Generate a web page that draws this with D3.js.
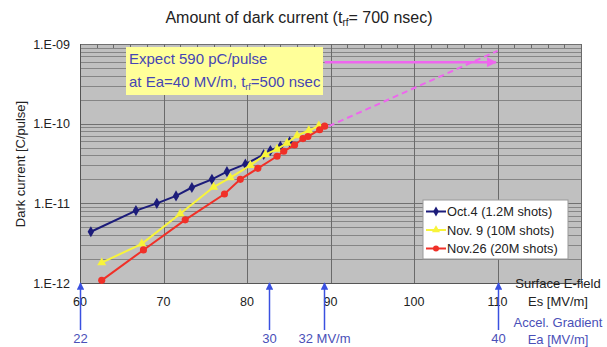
<!DOCTYPE html>
<html>
<head>
<meta charset="utf-8">
<script src="https://cdn.jsdelivr.net/npm/d3@7"></script>
<style>
  body { margin: 0; background: #fff; }
  text { font-family: "Liberation Sans", Arial, sans-serif; }
</style>
</head>
<body>
<svg id="chart" width="607" height="347"></svg>
<script>
// surface field Es [MV/m] and dark current [C/pulse]
var oct4Es  = [61.3, 66.7, 69.2, 71.5, 73.4, 75.8, 77.6, 79.8, 82.0, 82.8, 84.0, 85.1];
var oct4Q   = [4.4e-12, 8.1e-12, 1.0e-11, 1.24e-11, 1.58e-11, 2.0e-11, 2.5e-11, 3.1e-11, 4.1e-11, 4.6e-11, 5.2e-11, 5.9e-11];
var nov9Es  = [62.6, 67.4, 72.0, 76.0, 78.0, 80.4, 82.2, 83.6, 84.8, 86.0, 87.4, 88.6];
var nov9Q   = [1.8e-12, 3.1e-12, 7.4e-12, 1.6e-11, 2.1e-11, 3.0e-11, 4.1e-11, 4.8e-11, 5.7e-11, 7.1e-11, 8.2e-11, 9.4e-11];
var nov26Es = [62.6, 67.6, 72.6, 77.3, 79.2, 81.3, 83.6, 84.4, 85.7, 86.7, 87.3, 88.7, 89.3];
var nov26Q  = [1.08e-12, 2.6e-12, 6.2e-12, 1.31e-11, 2.0e-11, 2.75e-11, 3.9e-11, 4.5e-11, 5.4e-11, 6.5e-11, 6.9e-11, 8.4e-11, 9.3e-11];

// extrapolation and expected value
var extrapEs = [89.8, 110];
var extrapQ  = [9.3e-11, 8.2e-10];
var expectEs = [89.3, 109.8];
var expectQ  = [5.9e-10, 5.9e-10];

// x axis ticks, y axis ticks
var xTicks = [60, 70, 80, 90, 100, 110];
var yTicks = [1e-12, 1e-11, 1e-10, 1e-9];
var yTickLabels = ["1.E-12", "1.E-11", "1.E-10", "1.E-09"];

// accelerating gradient markers
var gradEs = [60, 82.6, 89.2, 110];
var gradLabels = ["22", "30", "32 MV/m", "40"];

var seriesNames = ["Oct.4 (1.2M shots)", "Nov. 9 (10M shots)", "Nov.26 (20M shots)"];

var series = [
	{ name: seriesNames[0], es: oct4Es, q: oct4Q, color: "#1c1c7a", mark: "diamond" },
	{ name: seriesNames[1], es: nov9Es, q: nov9Q, color: "#f8f43a", mark: "triangle" },
	{ name: seriesNames[2], es: nov26Es, q: nov26Q, color: "#f03028", mark: "circle" }
];

var svg = d3.select("#chart");
var pLeft = 80, pRight = 581, pTop = 44, pBottom = 283;

var x = d3.scaleLinear().domain([60, 120]).range([pLeft, pRight]);
var y = d3.scaleLog().domain([1e-12, 1e-9]).range([pBottom, pTop]);

// title
var title = svg.append("text")
	.attr("x", 299).attr("y", 23)
	.attr("text-anchor", "middle")
	.attr("font-size", 16)
	.attr("fill", "#222");
title.append("tspan").text("Amount of dark current (t");
title.append("tspan").attr("font-size", 10).attr("dy", 3).text("rf");
title.append("tspan").attr("dy", -3).text("= 700 nsec)");

// plot background
svg.append("rect")
	.attr("x", pLeft).attr("y", pTop)
	.attr("width", pRight - pLeft).attr("height", pBottom - pTop)
	.attr("fill", "#c0c0c0");

// minor log grid lines
var minor = [];
[1e-12, 1e-11, 1e-10].forEach(function(d) {
	for (var k = 2; k <= 9; k++) minor.push(d * k);
});
svg.append("g").selectAll("line")
	.data(minor).enter().append("line")
	.attr("x1", pLeft).attr("x2", pRight)
	.attr("y1", function(d) { return Math.round(y(d)) + 0.5; })
	.attr("y2", function(d) { return Math.round(y(d)) + 0.5; })
	.attr("stroke", "#858585").attr("stroke-width", 1);

// major horizontal
svg.append("g").selectAll("line")
	.data(yTicks).enter().append("line")
	.attr("x1", pLeft).attr("x2", pRight)
	.attr("y1", function(d) { return Math.round(y(d)) + 0.5; })
	.attr("y2", function(d) { return Math.round(y(d)) + 0.5; })
	.attr("stroke", "#707070");

// vertical grid lines
svg.append("g").selectAll("line")
	.data(d3.range(70, 121, 10)).enter().append("line")
	.attr("x1", function(d) { return Math.round(x(d)) + 0.5; })
	.attr("x2", function(d) { return Math.round(x(d)) + 0.5; })
	.attr("y1", pTop).attr("y2", pBottom)
	.attr("stroke", "#6a6a6a");

// small ticks at top
svg.append("g").selectAll("line")
	.data(d3.range(62, 120, 2).filter(function(d) { return d % 10 != 0; })).enter().append("line")
	.attr("x1", function(d) { return Math.round(x(d)) + 0.5; })
	.attr("x2", function(d) { return Math.round(x(d)) + 0.5; })
	.attr("y1", pTop).attr("y2", pTop + 4)
	.attr("stroke", "#6a6a6a");

// axis frame
svg.append("line").attr("x1", pLeft + 0.5).attr("x2", pLeft + 0.5).attr("y1", pTop).attr("y2", pBottom).attr("stroke", "#555");
svg.append("line").attr("x1", pLeft).attr("x2", pRight).attr("y1", pBottom + 0.5).attr("y2", pBottom + 0.5).attr("stroke", "#555");

// y tick labels
svg.append("g").selectAll("text")
	.data(yTicks).enter().append("text")
	.attr("x", 70).attr("y", function(d) { return y(d) + 4.5; })
	.attr("text-anchor", "end")
	.attr("font-size", 12.5).attr("fill", "#222")
	.text(function(d, i) { return yTickLabels[i]; });

// x tick labels
svg.append("g").selectAll("text")
	.data(xTicks).enter().append("text")
	.attr("x", function(d) { return x(d); }).attr("y", 306)
	.attr("text-anchor", "middle")
	.attr("font-size", 12.5).attr("fill", "#222")
	.text(function(d) { return d; });

// y axis title
svg.append("text")
	.attr("transform", "translate(25,164) rotate(-90)")
	.attr("text-anchor", "middle")
	.attr("font-size", 13).attr("fill", "#222")
	.text("Dark current [C/pulse]");

// annotation box
svg.append("rect")
	.attr("x", 126).attr("y", 47).attr("width", 197).attr("height", 48)
	.attr("fill", "#ffff99");
svg.append("text")
	.attr("x", 129).attr("y", 64)
	.attr("font-size", 15).attr("fill", "#4646b4")
	.text("Expect 590 pC/pulse");
var t2 = svg.append("text")
	.attr("x", 129).attr("y", 87)
	.attr("font-size", 15).attr("fill", "#4646b4");
t2.append("tspan").text("at Ea=40 MV/m, t");
t2.append("tspan").attr("font-size", 9).attr("dy", 3).text("rf");
t2.append("tspan").attr("dy", -3).text("=500 nsec");

// extrapolation (dashed pink)
var line = d3.line()
	.x(function(d) { return x(d[0]); })
	.y(function(d) { return y(d[1]); });

svg.append("path")
	.attr("d", line(d3.zip(extrapEs, extrapQ)))
	.attr("fill", "none").attr("stroke", "#ee66ee")
	.attr("stroke-width", 2).attr("stroke-dasharray", "6,4");

// expected arrow
svg.append("defs").append("marker")
	.attr("id", "pinkhead").attr("viewBox", "0 0 10 10")
	.attr("refX", 9).attr("refY", 5)
	.attr("markerWidth", 4).attr("markerHeight", 4)
	.attr("orient", "auto")
	.append("path").attr("d", "M0,0L10,5L0,10z").attr("fill", "#ee66ee");
svg.append("path")
	.attr("d", line(d3.zip(expectEs, expectQ)))
	.attr("fill", "none").attr("stroke", "#ee66ee")
	.attr("stroke-width", 2.5).attr("marker-end", "url(#pinkhead)");

// series lines and markers
var symbols = { diamond: d3.symbolDiamond, triangle: d3.symbolTriangle, circle: d3.symbolCircle };

function drawMarker(g, s, px, py, size) {
	g.append("path")
		.attr("transform", "translate(" + px + "," + py + ")")
		.attr("d", d3.symbol().type(symbols[s.mark]).size(size)())
		.attr("fill", s.color);
}

series.forEach(function(s) {
	var pts = d3.zip(s.es, s.q);
	svg.append("path")
		.attr("d", line(pts))
		.attr("fill", "none").attr("stroke", s.color).attr("stroke-width", 2);
	var g = svg.append("g");
	pts.forEach(function(p) {
		drawMarker(g, s, x(p[0]), y(p[1]), s.mark == "circle" ? 40 : 36);
	});
});

// legend
var lg = svg.append("g");
lg.append("rect")
	.attr("x", 423).attr("y", 200).attr("width", 145).attr("height", 59)
	.attr("fill", "#fff").attr("stroke", "#999");
series.forEach(function(s, i) {
	var ly = 211.5 + i * 18.5;
	lg.append("line")
		.attr("x1", 426).attr("x2", 446).attr("y1", ly).attr("y2", ly)
		.attr("stroke", s.color).attr("stroke-width", 2);
	drawMarker(lg, s, 436, ly, 28);
	lg.append("text")
		.attr("x", 447).attr("y", ly + 4.5)
		.attr("font-size", 12.8).attr("fill", "#222")
		.text(s.name);
});

// axis descriptions at right
var desc = [
	{ t: "Surface E-field", y: 288, c: "#222" },
	{ t: "Es [MV/m]", y: 306, c: "#222" },
	{ t: "Accel. Gradient", y: 327, c: "#4a50b8" },
	{ t: "Ea [MV/m]", y: 344, c: "#4a50b8" }
];
svg.append("g").selectAll("text")
	.data(desc).enter().append("text")
	.attr("x", 558).attr("y", function(d) { return d.y; })
	.attr("text-anchor", "middle")
	.attr("font-size", 13).attr("fill", function(d) { return d.c; })
	.text(function(d) { return d.t; });

// gradient arrows
svg.select("defs").append("marker")
	.attr("id", "bluehead").attr("viewBox", "0 0 10 10")
	.attr("refX", 9).attr("refY", 5)
	.attr("markerWidth", 5).attr("markerHeight", 5)
	.attr("orient", "auto")
	.append("path").attr("d", "M0,0L10,5L0,10z").attr("fill", "#3a50e0");
var ga = svg.append("g");
gradEs.forEach(function(d, i) {
	var gx = Math.round(x(d)) + 0.5;
	ga.append("line")
		.attr("x1", gx).attr("x2", gx).attr("y1", 330).attr("y2", 283)
		.attr("stroke", "#3a50e0").attr("stroke-width", 1.5)
		.attr("marker-end", "url(#bluehead)");
	ga.append("text")
		.attr("x", gx).attr("y", 343)
		.attr("text-anchor", "middle")
		.attr("font-size", 13).attr("fill", "#4a50b8")
		.text(gradLabels[i]);
});
</script>
</body>
</html>
